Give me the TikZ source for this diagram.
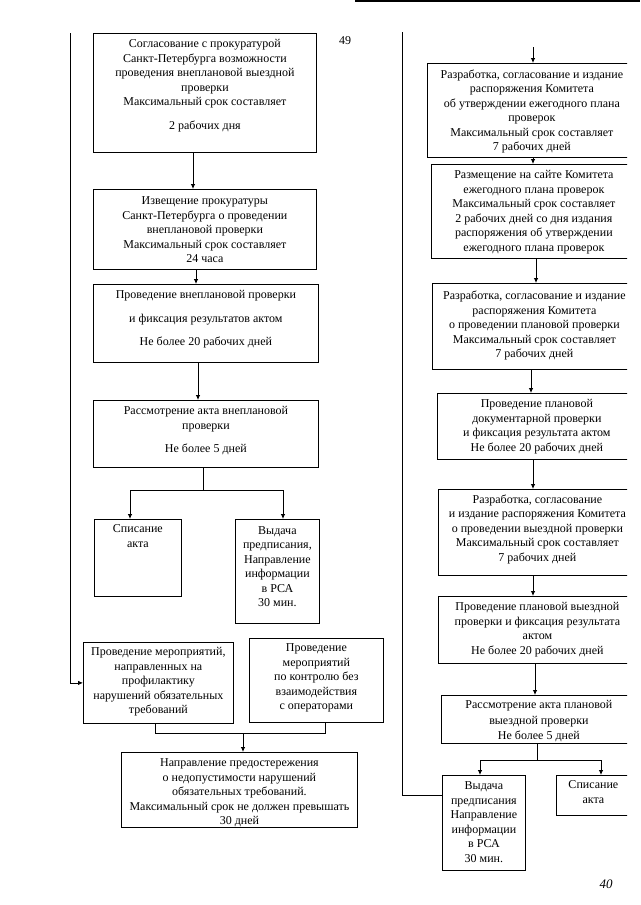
\documentclass[tikz,border=0pt]{standalone}
\usepackage{fontspec}
\setmainfont{Liberation Serif}
\usetikzlibrary{arrows.meta}
\begin{document}
\begin{tikzpicture}[x=1pt,y=-1pt,
  box/.style={draw, line width=0.8pt, inner sep=0pt, anchor=north west},
  txt/.style={align=center, inner sep=0pt, anchor=north, font=\fontsize{12}{14.5}\selectfont},
  arr/.style={-{Latex[length=5pt,width=4.5pt]}, line width=0.8pt},
  ln/.style={line width=0.8pt}]
\useasboundingbox (0,0) rectangle (640,905);
\fill[white] (0,0) rectangle (640,905);
\draw[line width=2.5pt] (355,1) -- (640,1);
\node[font=\fontsize{12}{14}\selectfont] (pnum) at (345,41) {49};
\node[font=\fontsize{13}{14}\selectfont\itshape] (hw) at (606,884) {40};

% ---------- left column ----------
\node[box, minimum width=223pt, minimum height=119pt] (a) at (93,33) {};
\node[txt, yshift=-6.5pt] (a-t) at (a.north) {Согласование с прокуратурой\\Санкт-Петербурга возможности\\проведения внеплановой выездной\\проверки\\Максимальный срок составляет\\[9.5pt]2 рабочих дня};
\node[box, minimum width=223pt, minimum height=80pt] (b) at (93,189) {};
\node[txt, yshift=-7.5pt] (b-t) at (b.north) {Извещение прокуратуры\\Санкт-Петербурга о проведении\\внеплановой проверки\\Максимальный срок составляет\\24 часа};
\node[box, minimum width=225pt, minimum height=78pt] (c) at (93,284) {};
\node[txt, yshift=-6.5pt] (c-t) at (c.north) {Проведение внеплановой проверки\\[9pt]и фиксация результатов актом\\[9pt]Не более 20 рабочих дней};
\node[box, minimum width=225pt, minimum height=67pt] (d) at (93,400) {};
\node[txt, yshift=-6.5pt] (d-t) at (d.north) {Рассмотрение акта внеплановой\\проверки\\[8.5pt]Не более 5 дней};
\node[box, minimum width=87pt, minimum height=77pt] (e) at (94,519) {};
\node[txt, yshift=-5.5pt] (e-t) at (e.north) {Списание\\акта};
\node[box, minimum width=84pt, minimum height=104pt] (f) at (235,519) {};
\node[txt, yshift=-7pt] (f-t) at (f.north) {Выдача\\предписания,\\Направление\\информации\\в РСА\\30 мин.};
\node[box, minimum width=150pt, minimum height=81pt] (g) at (83,642) {};
\node[txt, yshift=-5.5pt] (g-t) at (g.north) {Проведение мероприятий,\\направленных на\\профилактику\\нарушений обязательных\\требований};
\node[box, minimum width=134pt, minimum height=84pt] (h) at (249,638) {};
\node[txt, yshift=-5.5pt] (h-t) at (h.north) {Проведение\\мероприятий\\по контролю без\\взаимодействия\\с операторами};
\node[box, minimum width=236pt, minimum height=75pt] (i) at (121,752) {};
\node[txt, yshift=-6.5pt] (i-t) at (i.north) {Направление предостережения\\о недопустимости нарушений\\обязательных требований.\\Максимальный срок не должен превышать\\30 дней};

\draw[arr] (a.south -| 193,0) -- (b.north -| 193,0);
\draw[arr] (b.south -| 196,0) -- (c.north -| 196,0);
\draw[arr] (c.south -| 198,0) -- (d.north -| 198,0);
\coordinate (dsplit) at (203,490);
\draw[ln] (d.south -| dsplit) -- (dsplit);
\draw[arr] (dsplit) -| (e.north -| 130,0);
\draw[arr] (dsplit) -| (f.north -| 283,0);
\coordinate (ghj) at (243,733);
\draw[ln] (g.south -| 155,0) -- (155,733) -- (325,733) -- (h.south -| 325,0);
\draw[arr] (ghj) -- (i.north -| ghj);
\coordinate (ltop) at (70,33);
\draw[arr] (ltop) |- (g.west);

% ---------- right column ----------
\coordinate (rtop) at (402,32);
\coordinate (rin) at (533,47);
\begin{scope}
\clip (395,0) rectangle (627,905);
\node[box, minimum width=209pt, minimum height=94pt] (r1) at (427,63) {};
\node[box, minimum width=205pt, minimum height=94pt] (r2) at (431,164) {};
\node[box, minimum width=204pt, minimum height=86pt] (r3) at (432,283) {};
\node[box, minimum width=199pt, minimum height=66pt] (r4) at (437,393) {};
\node[box, minimum width=198pt, minimum height=86pt] (r5) at (438,489) {};
\node[box, minimum width=198pt, minimum height=67pt] (r6) at (438,596) {};
\node[box, minimum width=195pt, minimum height=48pt] (r7) at (441,695) {};
\node[box, minimum width=74pt, minimum height=40pt] (r9) at (556,775) {};
\end{scope}
\node[box, minimum width=83pt, minimum height=95pt] (r8) at (442,775) {};

\node[txt, yshift=-6.5pt] (r1-t) at (r1.north) {Разработка, согласование и издание\\распоряжения Комитета\\об утверждении ежегодного плана\\проверок\\Максимальный срок составляет\\7 рабочих дней};
\node[txt, yshift=-6.5pt] (r2-t) at (r2.north) {Размещение на сайте Комитета\\ежегодного плана проверок\\Максимальный срок составляет\\2 рабочих дней со дня издания\\распоряжения об утверждении\\ежегодного плана проверок};
\node[txt, yshift=-8pt] (r3-t) at (r3.north) {Разработка, согласование и издание\\распоряжения Комитета\\о проведении плановой проверки\\Максимальный срок составляет\\7 рабочих дней};
\node[txt, yshift=-6.5pt] (r4-t) at (r4.north) {Проведение плановой\\документарной проверки\\и фиксация результата актом\\Не более 20 рабочих дней};
\node[txt, yshift=-5.5pt] (r5-t) at (r5.north) {Разработка, согласование\\и издание распоряжения Комитета\\о проведении выездной проверки\\Максимальный срок составляет\\7 рабочих дней};
\node[txt, yshift=-6.5pt] (r6-t) at (r6.north) {Проведение плановой выездной\\проверки и фиксация результата\\актом\\Не более 20 рабочих дней};
\node[txt, yshift=-5.5pt, font=\fontsize{12}{15.5}\selectfont] (r7-t) at (r7.north) {Рассмотрение акта плановой\\выездной проверки\\Не более 5 дней};
\node[txt, yshift=-6.5pt] (r8-t) at (r8.north) {Выдача\\предписания\\Направление\\информации\\в РСА\\30 мин.};
\node[txt, yshift=-5.5pt] (r9-t) at (r9.north) {Списание\\акта};

\draw[arr] (rin) -- (r1.north -| rin);
\draw[arr] (r1.south -| 533,0) -- (r2.north -| 533,0);
\draw[arr] (r2.south -| 536,0) -- (r3.north -| 536,0);
\draw[arr] (r3.south -| 531,0) -- (r4.north -| 531,0);
\draw[arr] (r4.south -| 533,0) -- (r5.north -| 533,0);
\draw[arr] (r5.south -| 533,0) -- (r6.north -| 533,0);
\draw[arr] (r6.south -| 535,0) -- (r7.north -| 535,0);
\coordinate (rsplit) at (537,760);
\draw[ln] (r7.south -| rsplit) -- (rsplit);
\draw[arr] (rsplit) -| (r8.north -| 480,0);
\draw[arr] (rsplit) -| (r9.north -| 601,0);
\draw[ln] (rtop) |- (r8.west |- 0,795);
\end{tikzpicture}
\end{document}
